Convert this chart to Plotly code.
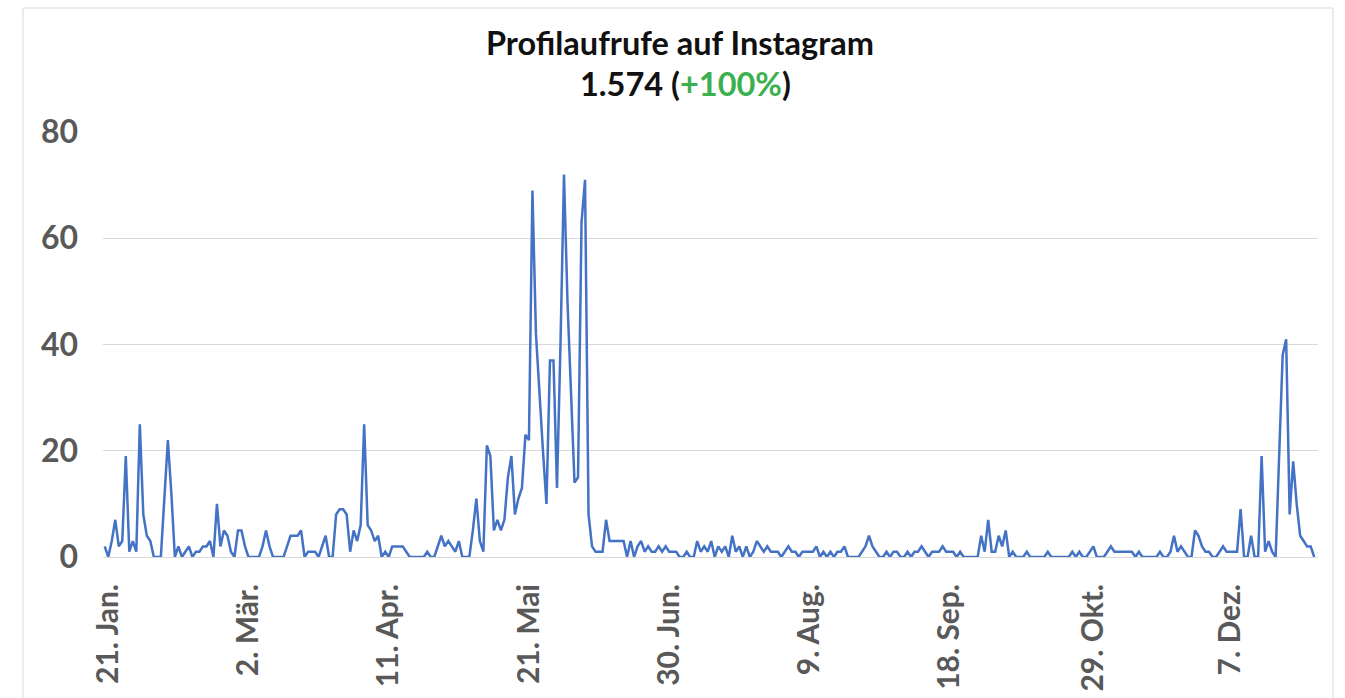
import pandas as pd
import plotly.graph_objects as go

# Daily Instagram profile views, starting 20 Jan 2021
start_date = "2021-01-20"
views = [
    2, 0, 3, 7, 2, 3, 19, 1, 3, 1,
    25, 8, 4, 3, 0, 0, 0, 11, 22, 12,
    0, 2, 0, 1, 2, 0, 1, 1, 2, 2,
    3, 0, 10, 2, 5, 4, 1, 0, 5, 5,
    2, 0, 0, 0, 0, 2, 5, 2, 0, 0,
    0, 0, 2, 4, 4, 4, 5, 0, 1, 1,
    1, 0, 2, 4, 0, 0, 8, 9, 9, 8,
    1, 5, 3, 6, 25, 6, 5, 3, 4, 0,
    1, 0, 2, 2, 2, 2, 1, 0, 0, 0,
    0, 0, 1, 0, 0, 2, 4, 2, 3, 2,
    1, 3, 0, 0, 0, 5, 11, 3, 1, 21,
    19, 5, 7, 5, 7, 15, 19, 8, 11, 13,
    23, 22, 69, 42, 30, 20, 10, 37, 37, 13,
    40, 72, 48, 30, 14, 15, 63, 71, 8, 2,
    1, 1, 1, 7, 3, 3, 3, 3, 3, 0,
    3, 0, 2, 3, 1, 2, 1, 1, 2, 1,
    2, 1, 1, 1, 0, 0, 1, 0, 0, 3,
    1, 2, 1, 3, 0, 2, 1, 2, 0, 4,
    1, 2, 0, 2, 0, 1, 3, 2, 1, 2,
    1, 1, 1, 0, 1, 2, 1, 1, 0, 1,
    1, 1, 1, 2, 0, 1, 0, 1, 0, 1,
    1, 2, 0, 0, 0, 0, 1, 2, 4, 2,
    1, 0, 0, 1, 0, 1, 1, 0, 0, 1,
    0, 1, 1, 2, 1, 0, 1, 1, 1, 2,
    1, 1, 1, 0, 1, 0, 0, 0, 0, 0,
    4, 1, 7, 1, 1, 4, 2, 5, 0, 1,
    0, 0, 0, 1, 0, 0, 0, 0, 0, 1,
    0, 0, 0, 0, 0, 0, 1, 0, 1, 0,
    0, 1, 2, 0, 0, 0, 1, 2, 1, 1,
    1, 1, 1, 1, 0, 1, 0, 0, 0, 0,
    0, 1, 0, 0, 1, 4, 1, 2, 1, 0,
    0, 5, 4, 2, 1, 1, 0, 0, 1, 2,
    1, 1, 1, 1, 9, 0, 0, 4, 0, 0,
    19, 1, 3, 1, 0, 20, 38, 41, 8, 18,
    10, 4, 3, 2, 2, 0,
]
dates = pd.date_range(start_date, periods=len(views), freq="D")

tick_dates = ["2021-01-21", "2021-03-02", "2021-04-11", "2021-05-21", "2021-06-30",
              "2021-08-09", "2021-09-18", "2021-10-29", "2021-12-07"]
tick_labels = ["21. Jan.", "2. Mär.", "11. Apr.", "21. Mai", "30. Jun.",
               "9. Aug.", "18. Sep.", "29. Okt.", "7. Dez."]
y_ticks = [0, 20, 40, 60, 80]

title_text = "Profilaufrufe auf Instagram"
total_text = "1.574"
change_text = "+100%"

W, H = 1345, 698
ML, MR, MT, MB = 103, 27, 132, 141
PW, PH = W - ML - MR, H - MT - MB

def px_x(x):
    return (x - ML) / PW

def px_y(y):
    return (H - MB - y) / PH

FONT = "Lato"
GRID = "#d9d9d9"
LABEL = "#595959"

fig = go.Figure(
    go.Scatter(
        x=dates, y=views, mode="lines",
        line=dict(color="#4472C4", width=2.5),
        hoverinfo="x+y",
    )
)

fig.update_layout(
    width=W, height=H,
    margin=dict(l=ML, r=MR, t=MT, b=MB, pad=0, autoexpand=False),
    paper_bgcolor="white", plot_bgcolor="white",
    showlegend=False,
    font=dict(family=FONT, color=LABEL),
    xaxis=dict(
        type="date",
        range=["2021-01-19 12:00", "2022-01-01 02:00"],
        tickmode="array", tickvals=tick_dates, ticktext=tick_labels,
        tickangle=-90,
        tickfont=dict(family=FONT, size=30, color=LABEL, weight="bold"),
        ticks="", showgrid=False, zeroline=False,
        showline=True, linecolor=GRID, linewidth=1,
        ticklabelstandoff=14, automargin=False,
    ),
    yaxis=dict(
        range=[0, 80],
        tickmode="array", tickvals=y_ticks,
        tickfont=dict(family=FONT, size=32, color=LABEL, weight="bold"),
        ticks="", showgrid=True, gridcolor=GRID, gridwidth=1,
        zeroline=False, showline=False,
        ticklabelstandoff=24, automargin=False,
    ),
    shapes=[
        dict(type="rect", xref="paper", yref="paper",
             x0=px_x(23), x1=px_x(1333), y0=px_y(705), y1=px_y(8),
             line=dict(color=GRID, width=1), fillcolor="rgba(0,0,0,0)", layer="below"),
    ],
    annotations=[
        dict(text=f"<b>{title_text}</b>", xref="paper", yref="paper",
             x=px_x(680), y=px_y(42), xanchor="center", yanchor="middle",
             showarrow=False, font=dict(family=FONT, size=32.5, color="#111111")),
        dict(text=f"<b>{total_text} (<span style='color:#3CB04F'>{change_text}</span>)</b>",
             xref="paper", yref="paper",
             x=px_x(685), y=px_y(84), xanchor="center", yanchor="middle",
             showarrow=False, font=dict(family=FONT, size=32.5, color="#111111")),
    ],
)

fig.write_html("out.html")
